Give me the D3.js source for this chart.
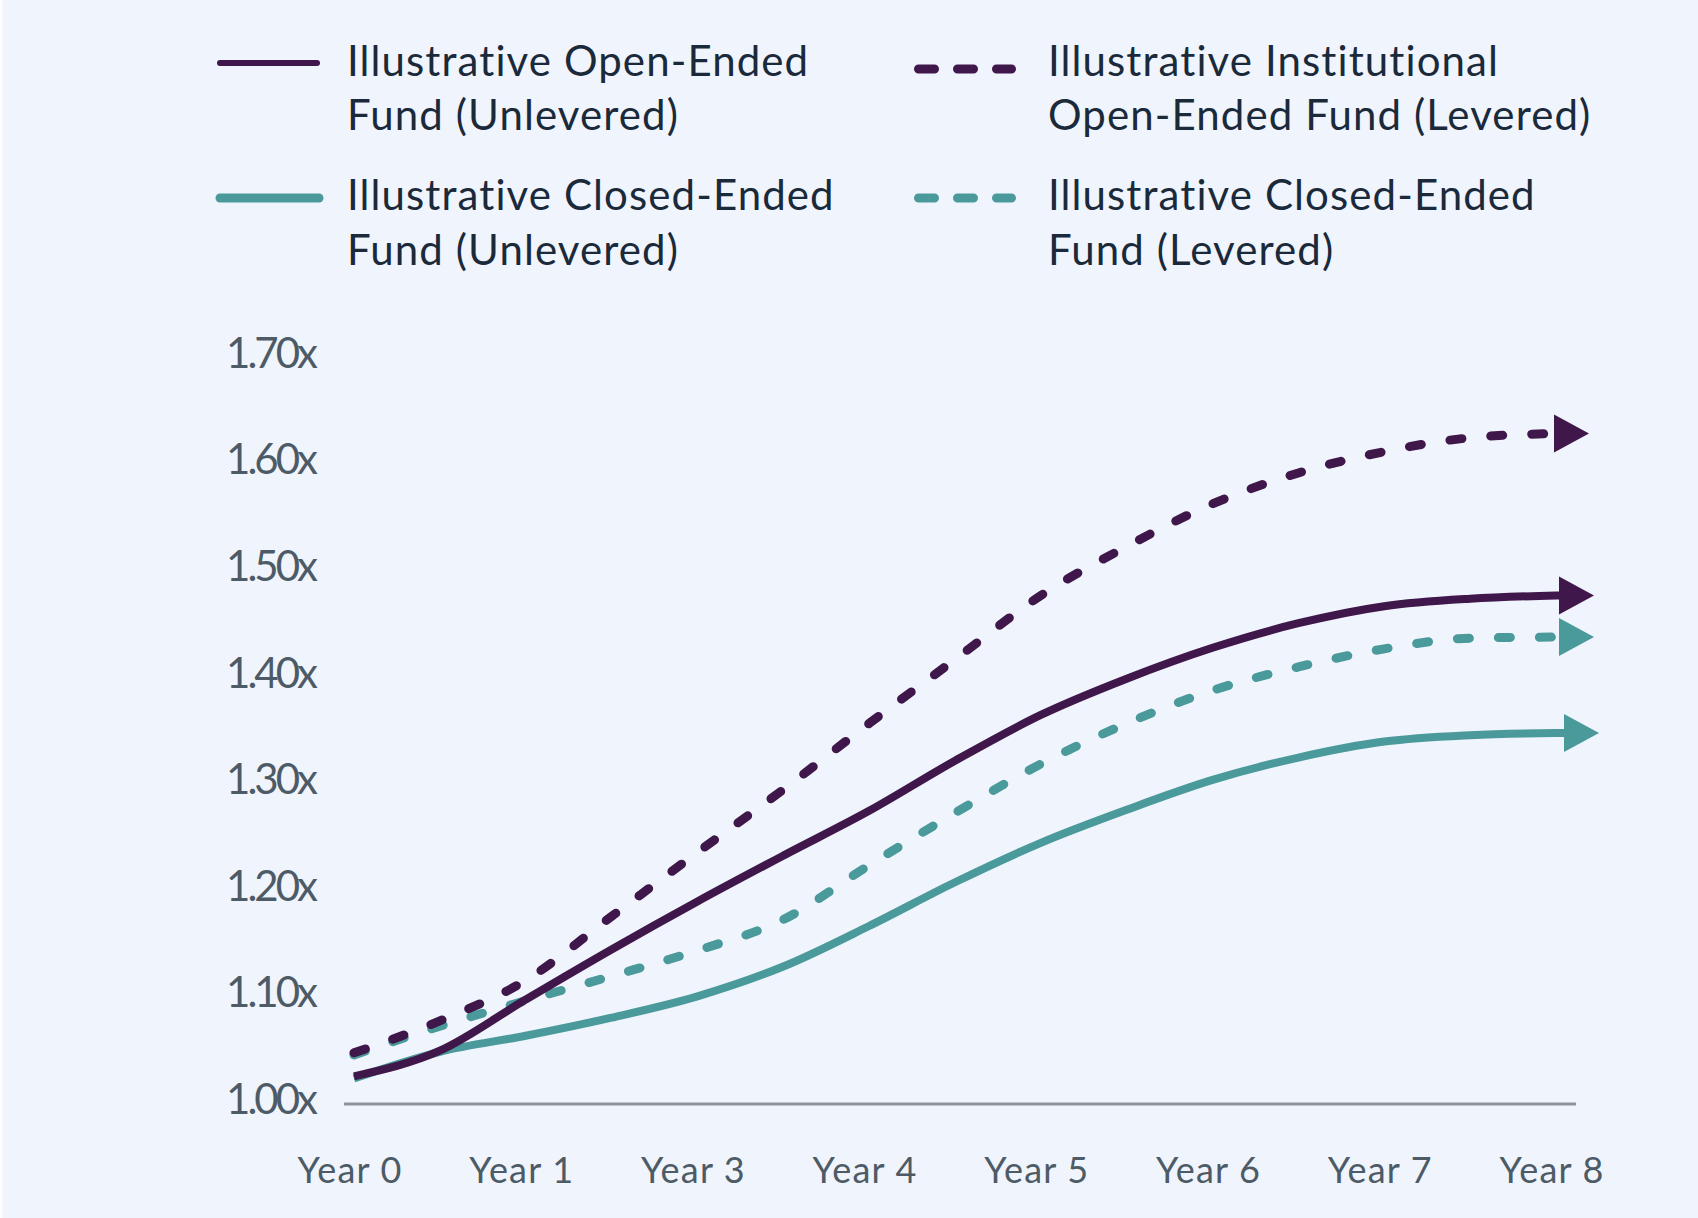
<!DOCTYPE html>
<html>
<head>
<meta charset="utf-8">
<script src="https://cdn.jsdelivr.net/npm/d3@7/dist/d3.min.js"></script>
<style>
  html, body { margin: 0; padding: 0; background: #f0f4fc; }
  svg { display: block; }
</style>
</head>
<body>
<svg id="chart" width="1698" height="1218"></svg>
<script>
// ---- Data (x positions are in axis-label index units: 0 = "Year 0", 7 = "Year 8") ----
const xLabels = ["Year 0", "Year 1", "Year 3", "Year 4", "Year 5", "Year 6", "Year 7", "Year 8"];
const yTicks = [1.00, 1.10, 1.20, 1.30, 1.40, 1.50, 1.60, 1.70];
const steps = [0, 0.5, 1, 1.5, 2, 2.5, 3, 3.5, 4, 4.5, 5, 5.5, 6, 6.5, 7];

const openEndedUnlevered   = [1.026, 1.050, 1.098, 1.145, 1.190, 1.233, 1.275, 1.322, 1.365, 1.399, 1.428, 1.451, 1.467, 1.474, 1.477];
const institutionalLevered = [1.048, 1.078, 1.116, 1.176, 1.236, 1.295, 1.357, 1.417, 1.477, 1.523, 1.563, 1.592, 1.612, 1.625, 1.629];
const closedEndedUnlevered = [1.024, 1.049, 1.064, 1.081, 1.101, 1.129, 1.167, 1.208, 1.245, 1.276, 1.304, 1.325, 1.340, 1.346, 1.348];
const closedEndedLevered   = [1.046, 1.073, 1.097, 1.120, 1.144, 1.173, 1.224, 1.273, 1.319, 1.357, 1.388, 1.410, 1.427, 1.437, 1.438];

const PURPLE = "#40174a";
const TEAL = "#4a999b";

const series = [
  { name: ["Illustrative Open-Ended", "Fund (Unlevered)"], values: openEndedUnlevered, color: PURPLE, dashed: false, arrowShift: 3 },
  { name: ["Illustrative Institutional", "Open-Ended Fund (Levered)"], values: institutionalLevered, color: PURPLE, dashed: true, arrowShift: -2 },
  { name: ["Illustrative Closed-Ended", "Fund (Unlevered)"], values: closedEndedUnlevered, color: TEAL, dashed: false, arrowShift: 8 },
  { name: ["Illustrative Closed-Ended", "Fund (Levered)"], values: closedEndedLevered, color: TEAL, dashed: true, arrowShift: 3 }
];

// ---- Layout ----
const svg = d3.select("#chart");
svg.append("rect").attr("width", 1698).attr("height", 1218).attr("fill", "#f0f4fc");
svg.append("rect").attr("x", 0).attr("y", 0).attr("width", 2.5).attr("height", 1218).attr("fill", "#fbfcff");

const x = d3.scaleLinear().domain([0, 7]).range([354, 1556]);
const y = d3.scaleLinear().domain([1.0, 1.7]).range([1104, 357.8]);

const FONT = "Lato, 'Open Sans', sans-serif";

// baseline axis
svg.append("line")
  .attr("x1", 344).attr("x2", 1576)
  .attr("y1", y(1.0)).attr("y2", y(1.0))
  .attr("stroke", "#8b949b").attr("stroke-width", 3);

// y tick labels
svg.append("g").selectAll("text").data(yTicks).join("text")
  .attr("x", 315)
  .attr("y", d => y(d) + 10)
  .attr("text-anchor", "end")
  .attr("font-family", FONT)
  .attr("font-size", 42)
  .attr("letter-spacing", -3)
  .attr("fill", "#4d5b67")
  .text(d => d.toFixed(2) + "x");

// x labels
svg.append("g").selectAll("text").data(xLabels).join("text")
  .attr("x", (d, i) => x(i) - 4)
  .attr("y", 1183)
  .attr("text-anchor", "middle")
  .attr("font-family", FONT)
  .attr("font-size", 36)
  .attr("letter-spacing", 1.2)
  .attr("fill", "#4d5b67")
  .text(d => d);

// lines
const line = d3.line()
  .x((d, i) => x(steps[i]))
  .y(d => y(d))
  .curve(d3.curveMonotoneX);

const drawOrder = [2, 3, 0, 1];
drawOrder.forEach(k => {
  const s = series[k];
  const ex = x(steps[steps.length - 1]);
  const ey = y(s.values[s.values.length - 1]);
  const ax = ex + s.arrowShift;
  svg.append("path")
    .attr("d", line(s.values) + (s.dashed ? "" : `L${ax + 2},${ey}`))
    .attr("fill", "none")
    .attr("stroke", s.color)
    .attr("stroke-width", s.dashed ? 9 : 8)
    .attr("stroke-linecap", s.dashed ? "round" : "butt")
    .attr("stroke-linejoin", "round")
    .attr("stroke-dasharray", s.dashed ? "12,29" : null);
  // arrowhead
  svg.append("path")
    .attr("d", `M${ax},${ey - 19} L${ax + 35},${ey} L${ax},${ey + 19} Z`)
    .attr("fill", s.color);
});

// legend
const legendPos = [
  { sx1: 217, sx2: 320, sy: 63, tx: 347, ty: [76, 130], w: 6 },
  { sx1: 914, sx2: 1016, sy: 69, tx: 1048, ty: [76, 130], w: 9 },
  { sx1: 217, sx2: 322, sy: 198, tx: 347, ty: [210, 265], w: 9 },
  { sx1: 914, sx2: 1016, sy: 198, tx: 1048, ty: [210, 265], w: 9 }
];
series.forEach((s, k) => {
  const p = legendPos[k];
  const g = svg.append("g");
  g.append("line")
    .attr("x1", p.sx1 + (s.dashed ? 4.5 : 3)).attr("x2", p.sx2 - (s.dashed ? 4.5 : 3))
    .attr("y1", p.sy).attr("y2", p.sy)
    .attr("stroke", s.color)
    .attr("stroke-width", p.w)
    .attr("stroke-linecap", "round")
    .attr("stroke-dasharray", s.dashed ? "16,23" : null);
  s.name.forEach((t, j) => {
    g.append("text")
      .attr("x", p.tx).attr("y", p.ty[j])
      .attr("font-family", FONT)
      .attr("font-size", 42)
      .attr("letter-spacing", 1.1)
      .attr("fill", "#1b2a3a")
      .text(t);
  });
});
</script>
</body>
</html>
